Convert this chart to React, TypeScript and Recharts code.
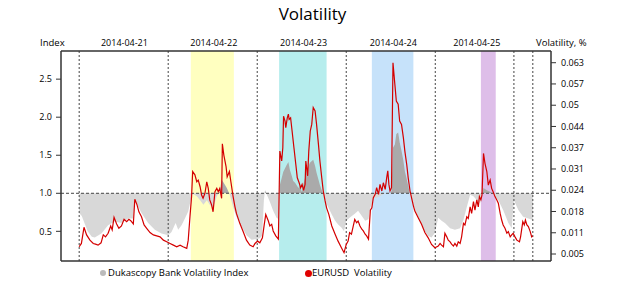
import React from 'react';
import {
  ComposedChart,
  Area,
  Line,
  XAxis,
  YAxis,
  ReferenceArea,
  ReferenceLine,
} from 'recharts';

// hours counted from 2014-04-21 00:00
const dayLabels = ['2014-04-21', '2014-04-22', '2014-04-23', '2014-04-24', '2014-04-25'];
const dayLabelHours = [12.2, 36.3, 60.5, 84.7, 107.2];
const sessionLines = [0, 24, 48, 72, 96, 117.2, 122.3];
const highlightRanges: [number, number][] = [
  [30.1, 41.7],
  [53.9, 66.7],
  [78.9, 90.1],
  [108.3, 112.3],
];
const indexTicks = [0.5, 1.0, 1.5, 2.0, 2.5];
const volTicks = [0.005, 0.01144, 0.01789, 0.02433, 0.03078, 0.03722, 0.04367, 0.05011, 0.05656, 0.063];

// Dukascopy Bank Volatility Index: [hour, index]
const volatilityIndex: [number, number][] = [
  [0, 0.74], [0.7, 0.7], [1.5, 0.6], [2.3, 0.5], [3.4, 0.43], [4.2, 0.42], [6.0, 0.47], [7.8, 0.58],
  [9.6, 0.63], [11.4, 0.61], [13.2, 0.67], [14.6, 0.67], [15.0, 0.91], [16.8, 0.74], [18.6, 0.61],
  [20.4, 0.52], [22.2, 0.47], [24.0, 0.45],
  [24.9, 0.49], [26.0, 0.61], [26.7, 0.52], [27.6, 0.58], [28.5, 0.67], [29.4, 0.76], [30.3, 0.96],
  [30.7, 0.99], [31.7, 0.96], [32.6, 0.91], [33.5, 0.85], [34.4, 0.91], [35.2, 0.85], [36.1, 0.8],
  [37.1, 0.96], [37.9, 1.02], [38.4, 1.18], [38.8, 1.15], [39.8, 1.07], [40.6, 0.98], [41.5, 0.82],
  [42.4, 0.69], [43.8, 0.56], [45.1, 0.45], [46.5, 0.39], [48.0, 0.4],
  [48.7, 0.41], [49.3, 0.44], [49.8, 0.91], [50.1, 1.04], [50.6, 0.98], [51.4, 0.89], [52.3, 0.77],
  [53.2, 0.68], [53.8, 0.66], [54.1, 1.11], [54.6, 1.2], [55.0, 1.28], [55.5, 1.33], [55.9, 1.37],
  [56.4, 1.41], [56.8, 1.31], [57.3, 1.23], [57.7, 1.16], [58.2, 1.14], [58.6, 1.11], [59.1, 1.07],
  [59.5, 1.1], [60.0, 1.02], [60.4, 1.11], [60.9, 1.2], [61.3, 1.29], [61.8, 1.36], [62.2, 1.4],
  [63.1, 1.44], [63.6, 1.36], [64.0, 1.27], [64.5, 1.18], [64.9, 1.11], [65.4, 1.04], [65.8, 0.98],
  [66.3, 0.91], [67.2, 0.81], [68.1, 0.72], [69.0, 0.64], [69.8, 0.59], [70.7, 0.55], [71.4, 0.5],
  [72.0, 0.64], [72.9, 0.68], [74.3, 0.73], [75.2, 0.77], [76.2, 0.7], [77.1, 0.64], [78.0, 0.66],
  [78.5, 0.81], [78.9, 0.87], [79.3, 0.94], [80.2, 0.94], [81.1, 0.96], [82.0, 0.99], [82.9, 1.0],
  [83.8, 1.0], [84.2, 1.03], [84.6, 1.6], [85.1, 1.64], [85.5, 1.78], [86.0, 1.8], [86.4, 1.67],
  [86.9, 1.56], [87.4, 1.43], [87.8, 1.29], [88.3, 1.19], [88.7, 1.1], [89.2, 0.99], [89.6, 0.93],
  [90.5, 0.79], [91.4, 0.68], [92.3, 0.59], [93.2, 0.5], [94.1, 0.44], [95.0, 0.42], [95.9, 0.48],
  [96.8, 0.68], [97.7, 0.64],
  [98.6, 0.61], [100.0, 0.54], [101.3, 0.52], [102.7, 0.54], [103.6, 0.65], [104.5, 0.82], [105.4, 0.98],
  [106.3, 0.96], [107.2, 0.91], [108.1, 0.87], [108.6, 0.98], [109.0, 1.07], [109.9, 1.04], [110.8, 1.02],
  [111.7, 0.98], [113.0, 0.91], [114.3, 0.78], [115.7, 0.61], [116.6, 0.54], [117.2, 0.91], [118.4, 0.78],
  [119.7, 0.69], [121.1, 0.67], [122.3, 0.65],
];

// EURUSD volatility, %: [hour, value]
const eurusdVolatility: [number, number][] = [
  [0, 0.0072], [0.6, 0.0082], [1.3, 0.0131], [2.0, 0.0108], [2.9, 0.0092], [3.8, 0.0082], [4.4, 0.008],
  [5.1, 0.0077], [5.9, 0.0084], [6.5, 0.0108], [7.1, 0.0102], [7.8, 0.0113], [8.5, 0.0135], [8.9, 0.0123],
  [9.4, 0.0161], [10.1, 0.0141], [10.7, 0.0128], [11.4, 0.0135], [12.1, 0.0155], [12.8, 0.0148],
  [13.4, 0.0155], [13.9, 0.0151], [14.6, 0.0141], [15.0, 0.0216], [15.6, 0.0199], [16.1, 0.0178],
  [16.8, 0.0163], [17.5, 0.0138], [18.2, 0.0128], [19.1, 0.0115], [20.0, 0.0108], [20.9, 0.0105],
  [21.8, 0.0102], [22.7, 0.0092], [23.6, 0.0087],
  [24.5, 0.0082], [25.4, 0.0077], [26.3, 0.0072], [27.2, 0.0077], [28.0, 0.0072], [29.0, 0.0067],
  [29.4, 0.0092], [29.9, 0.0168], [30.3, 0.0224], [30.6, 0.03], [31.2, 0.029], [31.7, 0.0269],
  [32.1, 0.0274], [32.6, 0.0254], [33.0, 0.0229], [33.4, 0.0219], [33.9, 0.0234], [34.4, 0.0269],
  [34.8, 0.0249], [35.2, 0.0214], [35.7, 0.0199], [36.1, 0.0178], [36.6, 0.0239], [37.1, 0.0249],
  [37.5, 0.0239], [37.9, 0.0249], [38.4, 0.0219], [38.6, 0.0384], [39.0, 0.035], [39.6, 0.0315],
  [39.9, 0.0284], [40.5, 0.03], [40.9, 0.0269], [41.5, 0.0224], [42.0, 0.0193], [42.4, 0.0173],
  [43.3, 0.0143], [44.2, 0.0118], [45.1, 0.0092], [46.0, 0.0077], [46.9, 0.0072], [47.4, 0.0082],
  [48.1, 0.0089], [48.7, 0.0084], [49.4, 0.0099], [49.9, 0.014], [50.3, 0.017], [51.0, 0.015],
  [51.4, 0.0135], [51.9, 0.014], [52.3, 0.012], [53.0, 0.0105], [53.7, 0.0095], [54.1, 0.0362],
  [54.6, 0.0332], [54.9, 0.0372], [55.1, 0.0468], [55.5, 0.0453], [55.7, 0.0433], [56.1, 0.0463],
  [56.4, 0.0474], [56.6, 0.0458], [57.0, 0.0463], [57.4, 0.0423], [57.9, 0.0372], [58.4, 0.0322],
  [58.8, 0.0281], [59.3, 0.0266], [59.7, 0.0251], [60.1, 0.0261], [60.5, 0.0243], [60.9, 0.0261],
  [61.1, 0.0332], [61.6, 0.0287], [61.9, 0.0362], [62.3, 0.0423], [62.7, 0.0443], [63.1, 0.0494],
  [63.6, 0.0484], [64.0, 0.0443], [64.5, 0.0383], [64.9, 0.0332], [65.4, 0.0281], [65.8, 0.0241],
  [66.3, 0.0211], [66.7, 0.019], [67.3, 0.017], [68.1, 0.0135], [69.0, 0.011], [69.8, 0.0089],
  [70.7, 0.0069], [71.4, 0.0054],
  [72.0, 0.0079], [72.5, 0.0089], [72.9, 0.0115], [73.4, 0.011], [73.9, 0.0135], [74.3, 0.0155],
  [74.8, 0.0145], [75.2, 0.015], [75.7, 0.0135], [76.2, 0.0125], [76.6, 0.012], [77.1, 0.011],
  [77.5, 0.0105], [78.0, 0.0095], [78.5, 0.0183], [78.9, 0.019], [79.3, 0.0221], [79.8, 0.0231],
  [80.2, 0.0251], [80.7, 0.0231], [81.1, 0.0261], [81.6, 0.0241], [82.0, 0.0266], [82.5, 0.0246],
  [82.9, 0.0281], [83.2, 0.0302], [83.5, 0.0261], [83.8, 0.0241], [84.2, 0.0251], [84.6, 0.063],
  [85.1, 0.0565], [85.5, 0.0514], [86.0, 0.0504], [86.4, 0.0453], [86.9, 0.0443], [87.4, 0.0403],
  [87.8, 0.0362], [88.3, 0.0322], [88.7, 0.0281], [89.2, 0.0241], [89.6, 0.0221], [90.1, 0.0196],
  [90.5, 0.018], [91.4, 0.016], [92.3, 0.014], [93.2, 0.0115], [94.1, 0.0099], [95.0, 0.0079],
  [95.9, 0.0069], [96.8, 0.0074],
  [97.3, 0.0082], [97.7, 0.0077], [98.2, 0.0072], [98.6, 0.0113], [99.1, 0.0102], [99.5, 0.0092],
  [100.0, 0.0087], [100.4, 0.008], [100.9, 0.0074], [101.3, 0.0082], [101.8, 0.0074], [102.2, 0.0087],
  [102.7, 0.0082], [103.1, 0.0102], [103.6, 0.0143], [104.0, 0.0138], [104.5, 0.0163], [104.9, 0.0158],
  [105.4, 0.0193], [105.8, 0.0173], [106.3, 0.0209], [106.7, 0.0183], [107.2, 0.0214], [107.6, 0.0193],
  [107.9, 0.0224], [108.3, 0.0214], [108.6, 0.0229], [109.0, 0.0355], [109.4, 0.0325], [109.9, 0.03],
  [110.3, 0.0259], [110.8, 0.0274], [111.2, 0.0249], [111.6, 0.0239], [112.1, 0.0224], [112.6, 0.0214],
  [113.0, 0.0204], [113.5, 0.0173], [113.9, 0.0153], [114.3, 0.0138], [114.8, 0.0128], [115.3, 0.0113],
  [115.7, 0.0118], [116.2, 0.0102], [116.6, 0.0108], [117.0, 0.0113], [117.5, 0.0102], [118.0, 0.0092],
  [118.7, 0.0087], [119.0, 0.0102], [119.6, 0.0148], [120.0, 0.0138], [120.3, 0.0153], [120.7, 0.0138],
  [121.1, 0.0133], [121.6, 0.0118], [122.0, 0.0102], [122.3, 0.0105],
];

const bandColors = ['#FFFFC0', '#B6EDED', '#C6E2FA', '#DEBEE9'];
const FONT = "'Open Sans', sans-serif";
const frameStroke = { stroke: '#333', strokeWidth: 1.5 };
const tickStyle = { fontSize: 9, fill: '#000' };

const indexData = volatilityIndex.map(([h, idx]) => ({ h, idx }));
const volData = eurusdVolatility.map(([h, vol]) => ({ h, vol }));

export default function App() {
  return (
    <div style={{ position: 'absolute', left: 0, top: 0, width: 625, height: 281, fontFamily: FONT, background: '#fff' }}>
      <div style={{ position: 'absolute', top: 2, left: 0, width: 625, textAlign: 'center', fontSize: 17 }}>
        Volatility
      </div>
      <div style={{ position: 'absolute', top: 37, left: 40, fontSize: 9.5, lineHeight: '12px' }}>Index</div>
      <div style={{ position: 'absolute', top: 37, left: 536, fontSize: 9.5, lineHeight: '12px' }}>Volatility, %</div>

      <ComposedChart width={625} height={281} margin={{ top: 35, right: 0, bottom: 19, left: 0 }}>
        <defs>
          <linearGradient id="idxFill" gradientUnits="userSpaceOnUse" x1="0" y1="51" x2="0" y2="261">
            <stop offset="0.6776" stopColor="#AAAAAA" />
            <stop offset="0.6776" stopColor="#D8D8D8" />
          </linearGradient>
        </defs>
        <XAxis
          orientation="top"
          type="number"
          dataKey="h"
          domain={[-4.9, 127.2]}
          allowDataOverflow
          ticks={dayLabelHours}
          interval={0}
          tickFormatter={(_v: number, i: number) => dayLabels[i]}
          tickLine={false}
          tickSize={0}
          tickMargin={5}
          height={16}
          axisLine={frameStroke}
          tick={tickStyle}
        />
        <XAxis
          xAxisId="b"
          orientation="bottom"
          type="number"
          dataKey="h"
          domain={[-4.9, 127.2]}
          allowDataOverflow
          tick={false}
          tickLine={false}
          height={1}
          axisLine={frameStroke}
        />
        <YAxis
          yAxisId="idx"
          orientation="left"
          width={61}
          domain={[0.11, 2.87]}
          allowDataOverflow
          ticks={indexTicks}
          interval={0}
          tickFormatter={(v: number) => v.toFixed(1)}
          tickSize={5}
          tickMargin={4}
          axisLine={frameStroke}
          tickLine={{ stroke: '#333' }}
          tick={tickStyle}
        />
        <YAxis
          yAxisId="vol"
          orientation="right"
          width={74}
          domain={[0.00288, 0.06655]}
          allowDataOverflow
          ticks={volTicks}
          interval={0}
          tickFormatter={(v: number) => String(parseFloat(v.toFixed(3)))}
          tickSize={5}
          tickMargin={5}
          axisLine={frameStroke}
          tickLine={{ stroke: '#333' }}
          tick={tickStyle}
        />

        {highlightRanges.map(([from, to], i) => (
          <ReferenceArea
            key={`band-${i}`}
            yAxisId="idx"
            x1={from}
            x2={to}
            fill={bandColors[i]}
            fillOpacity={1}
            stroke="none"
            ifOverflow="hidden"
          />
        ))}

        <Area
          yAxisId="idx"
          data={indexData}
          dataKey="idx"
          type="linear"
          baseValue={1}
          stroke="none"
          fill="url(#idxFill)"
          fillOpacity={1}
          dot={false}
          activeDot={false}
          isAnimationActive={false}
        />

        {sessionLines.map((h) => (
          <ReferenceLine key={`s-${h}`} yAxisId="idx" x={h} stroke="#444" strokeDasharray="2 2" />
        ))}
        <ReferenceLine yAxisId="idx" y={1} stroke="#444" strokeDasharray="3 2" />

        <Line
          yAxisId="vol"
          data={volData}
          dataKey="vol"
          type="linear"
          stroke="#D40000"
          strokeWidth={1.2}
          dot={false}
          activeDot={false}
          isAnimationActive={false}
        />
      </ComposedChart>

      <div style={{ position: 'absolute', left: 100, top: 270, width: 6, height: 6, borderRadius: '50%', background: '#BBBBBB' }} />
      <div style={{ position: 'absolute', left: 108, top: 267, fontSize: 9.5, lineHeight: '12px' }}>
        Dukascopy Bank Volatility Index
      </div>
      <div style={{ position: 'absolute', left: 305, top: 270, width: 7, height: 7, borderRadius: '50%', background: '#E00000' }} />
      <div style={{ position: 'absolute', left: 312, top: 267, fontSize: 9.5, lineHeight: '12px', whiteSpace: 'pre' }}>
        {'EURUSD  Volatility'}
      </div>
    </div>
  );
}
